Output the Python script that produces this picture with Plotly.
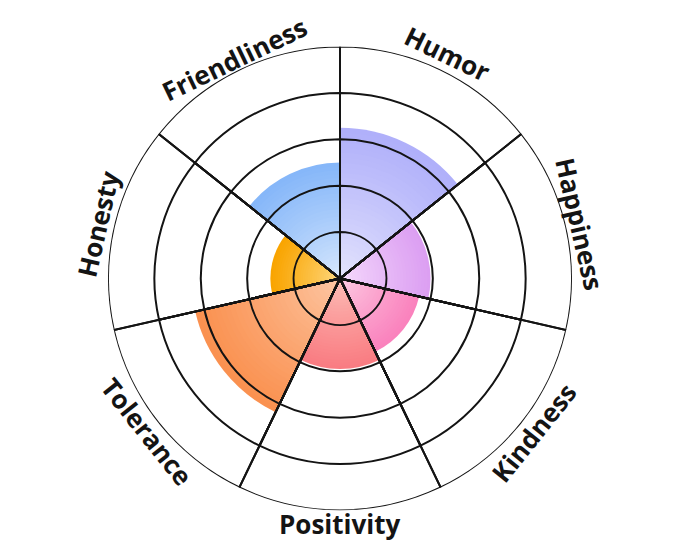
import math
import plotly.graph_objects as go

# ---------------- data ----------------
CATEGORIES = ["Humor", "Happiness", "Kindness", "Positivity", "Tolerance", "Honesty", "Friendliness"]
VALUES = [3.25, 1.95, 1.75, 1.95, 3.2, 1.5, 2.5]
RINGS = [1, 2, 3, 4, 5]

# ---------------- styles ----------------
OUTER_COLORS = ["#b0b0fa", "#dc9ff2", "#fa82bd", "#f97c82", "#fa9150", "#f9a400", "#86b7f9"]
INNER_COLORS = ["#e8e8fd", "#f7e0fd", "#fdd2e6", "#fdc4bc", "#fdcbab", "#fedd8c", "#dfecfd"]
GRID_COLOR = "#141414"
N_BANDS = 30
FONT_SIZE = 26

W, H = 680, 557
PAGE_OFFSET = 8  # browser body margin
CX, CY, R_PX = 340 - PAGE_OFFSET, 278.5 - PAGE_OFFSET, 232
LABEL_R = 250


def hex_to_rgb(h):
    h = h.lstrip("#")
    return tuple(int(h[i:i + 2], 16) for i in (0, 2, 4))


def mix(c1, c2, t):
    a, b = hex_to_rgb(c1), hex_to_rgb(c2)
    return "rgb(%d,%d,%d)" % tuple(round(a[i] + (b[i] - a[i]) * t) for i in range(3))


n = len(CATEGORIES)
step = 360.0 / n

fig = go.Figure()

# main bars (outer colour) + gradient overlays toward the centre
for k in range(N_BANDS, 0, -1):
    frac = k / N_BANDS
    t = frac ** 0.8
    fig.add_trace(go.Barpolar(
        r=[v * frac for v in VALUES] if k < N_BANDS else VALUES,
        theta=CATEGORIES,
        marker=dict(color=[mix(i_c, o_c, t) for i_c, o_c in zip(INNER_COLORS, OUTER_COLORS)],
                    line=dict(width=0)),
        hoverinfo="skip" if k < N_BANDS else "r+theta",
        showlegend=False,
    ))

# grid drawn above the bars: transparent sectors with dark outlines
for ring in RINGS:
    fig.add_trace(go.Barpolar(
        r=[ring] * n,
        theta=CATEGORIES,
        marker=dict(color="rgba(0,0,0,0)", line=dict(color=GRID_COLOR, width=2)),
        hoverinfo="skip",
        showlegend=False,
    ))

dom_x = [(CX - R_PX) / W, (CX + R_PX) / W]
dom_y = [(H - CY - R_PX) / H, (H - CY + R_PX) / H]

fig.update_layout(
    width=W, height=H,
    margin=dict(l=0, r=0, t=0, b=0),
    paper_bgcolor="white",
    plot_bgcolor="white",
    polar=dict(
        domain=dict(x=dom_x, y=dom_y),
        bgcolor="white",
        bargap=0,
        barmode="overlay",
        radialaxis=dict(range=[0, max(RINGS)], showgrid=False, showticklabels=False,
                        ticks="", showline=False),
        angularaxis=dict(rotation=90 - step / 2, direction="clockwise", showgrid=False,
                         showticklabels=False, ticks="", showline=False),
    ),
)

# labels: rotated text placed along the outer circle; the chord of a long word
# is pulled slightly inward to mimic the curved text of the reference
for i, cat in enumerate(CATEGORIES):
    a = step / 2 + i * step
    rad = math.radians(a)
    est_len = len(cat) * 0.5 * FONT_SIZE
    sag = (est_len / 2) ** 2 / (2 * LABEL_R)
    r_c = LABEL_R - 0.55 * sag
    x_px = CX + r_c * math.sin(rad)
    y_px = CY - r_c * math.cos(rad)
    if 90 < a < 270:
        ang = a - 180
    elif a >= 270:
        ang = a - 360
    else:
        ang = a
    fig.add_annotation(
        x=x_px / W, y=(H - y_px) / H, xref="paper", yref="paper",
        text="<b>%s</b>" % cat, showarrow=False, textangle=ang,
        xanchor="center", yanchor="middle", borderpad=0,
        font=dict(family="Open Sans", size=FONT_SIZE, color="#141414"),
    )

fig.write_html("out.html")
